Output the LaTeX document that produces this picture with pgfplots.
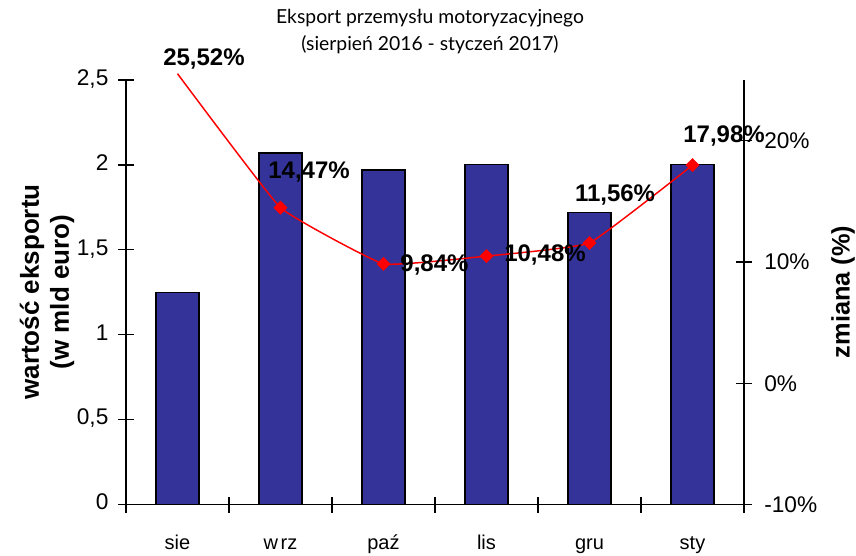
\documentclass[border=0pt]{standalone}
\usepackage{fontspec}
\setmainfont{Liberation Sans}
\newfontfamily\titlefont{Lato}
\usepackage{pgfplots}
\pgfplotsset{compat=1.18}
\definecolor{barblue}{RGB}{51,51,153}
\definecolor{linered}{RGB}{255,0,0}
\begin{document}
\begin{tikzpicture}[x=1pt,y=1pt]
\pgfplotsset{
  common/.style={
    at={(0,0)}, anchor=south west,
    scale only axis, width=463.5pt, height=318.4pt,
    xmin=-0.5, xmax=5.5,
    tick align=center,
    major tick length=12pt,
    minor tick length=12pt,
    tick style={black, line width=0.9pt},
    axis line style={black, line width=0.9pt},
    /pgf/number format/assume math mode=true,
    ticklabel style={font=\fontsize{17}{20}\selectfont, inner sep=0pt},
  }
}
\begin{axis}[
  common,
  axis x line*=bottom, axis y line*=left,
  ymin=0, ymax=2.5,
  ytick={0,0.5,1,1.5,2,2.5},
  /pgf/number format/use comma,
  yticklabel shift=7pt,
  xtick={0,1,2,3,4,5},
  xticklabels={sie, w\kern2pt rz, paź, lis, gru, sty},
  xticklabel style={font=\fontsize{15}{18}\selectfont, yshift=-15pt},
  major x tick style={draw=none},
  minor xtick={-0.5,0.5,1.5,2.5,3.5,4.5,5.5},
  typeset ticklabels with strut,
]
\addplot[ybar, bar width=32.25pt, fill=barblue, draw=black, line width=0.8pt]
  coordinates {(0,1.25) (1,2.07) (2,1.97) (3,2.00) (4,1.72) (5,2.00)};
\end{axis}
\begin{axis}[
  common,
  axis x line=none, axis y line*=right,
  ymin=-10, ymax=25,
  ytick={-10,0,10,20},
  yticklabel={\pgfmathprintnumber{\tick}\%},
  yticklabel shift=9pt,
  clip=false,
]
\addplot[linered, line width=1.1pt, smooth, tension=0.18, mark=square*, mark size=3.5pt,
  mark options={fill=linered, draw=linered, line width=0.4pt, rotate=45}, mark indices={2,3,4,5,6}]
  coordinates {(0,25.52) (1,14.47) (2,9.84) (3,10.48) (4,11.56) (5,17.98)};
\begin{scope}[every node/.style={font=\bfseries\fontsize{18}{21}\selectfont, inner sep=0pt}]
\node at (axis cs:0.257,26.72) {25,52\%};
\node at (axis cs:1.277,17.43) {14,47\%};
\node at (axis cs:2.495,9.79) {9,84\%};
\node at (axis cs:3.568,10.54) {10,48\%};
\node at (axis cs:4.248,15.52) {11,56\%};
\node at (axis cs:5.306,20.37) {17,98\%};
\end{scope}
\end{axis}
\node[font=\titlefont\fontsize{14.5}{20.25}\selectfont, align=center] at (228pt,354.4pt)
  {Eksport przemysłu motoryzacyjnego\\(sierpień 2016 - styczeń 2017)};
\node[rotate=90, align=center, font=\bfseries\fontsize{19.5}{22.5}\selectfont] at (-59.25pt,159.4pt)
  {wartość eksportu\\(w mld euro)};
\node[rotate=90, font=\bfseries\fontsize{19}{22}\selectfont] at (537.75pt,159.4pt) {zmiana (\%)};
\pgfresetboundingbox
\path[use as bounding box] (-94.5pt,-38.6pt) rectangle (547.5pt,378.4pt);
\end{tikzpicture}
\end{document}
